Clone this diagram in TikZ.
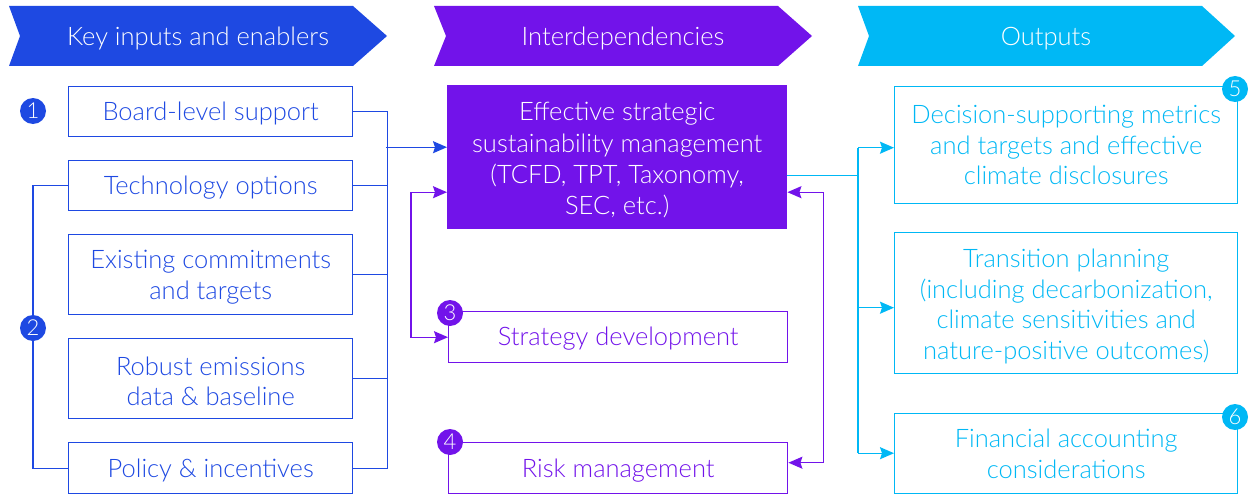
\documentclass[tikz,border=0pt]{standalone}
\usepackage{fontspec}
\setmainfont{Lato}[UprightFont={* Light}]
\usetikzlibrary{arrows.meta}
\definecolor{kblue}{HTML}{1E49E2}
\definecolor{kpurple}{HTML}{7213EA}
\definecolor{kcyan}{HTML}{00B8F5}
\newcommand\tstrut[1]{\rule{0pt}{#1pt}}
\begin{document}
\begin{tikzpicture}[x=1pt,y=-1pt,
  txt/.style={font=\fontsize{25.5}{30.6}\selectfont, align=center},
  bx/.style={draw=#1, text=#1, line width=1.4pt, inner sep=0pt, anchor=north west, txt},
  hdr/.style={txt, text=white},
  badge/.style={circle, fill=#1, text=white, minimum size=26pt, inner sep=0pt, font=\fontsize{22}{22}\selectfont},
  tip/.style={-{Stealth[length=14pt,width=12pt,inset=2pt]}},
  dtip/.style={{Stealth[length=14pt,width=12pt,inset=2pt]}-{Stealth[length=14pt,width=12pt,inset=2pt]}},
  conn/.style={draw=#1, line width=1.4pt}
]
\useasboundingbox (0,0) rectangle (1250,495);
% headers
\fill[kblue] (9,6) -- (353,6) -- (387,36) -- (353,66) -- (9,66) -- (20,36) -- cycle;
\fill[kpurple] (434,6) -- (778,6) -- (812,36) -- (778,66) -- (434,66) -- (446,36) -- cycle;
\fill[kcyan] (858,6) -- (1202,6) -- (1235,36) -- (1202,66) -- (858,66) -- (869,36) -- cycle;
\node[hdr] (h1) at (198,36) {\tstrut{23}Key inputs and enablers};
\node[hdr] (h2) at (623,36) {\tstrut{23}Interdependencies};
\node[hdr] (h3) at (1046,36) {\tstrut{23}Outputs};
% left boxes
\node[bx=kblue, minimum width=284pt, minimum height=50pt] (b1) at (68,86) {\tstrut{23}Board-level support};
\node[bx=kblue, minimum width=284pt, minimum height=50pt] (b2) at (68,160) {\tstrut{23}Technology options};
\node[bx=kblue, minimum width=284pt, minimum height=80pt] (b3) at (68,234) {\tstrut{23.5}Existing commitments\\and targets};
\node[bx=kblue, minimum width=284pt, minimum height=80pt] (b4) at (68,338) {\tstrut{23.5}Robust emissions\\data \& baseline};
\node[bx=kblue, minimum width=284pt, minimum height=51pt] (b5) at (68,442) {\tstrut{23}Policy \& incentives};
% middle
\node[anchor=north west, fill=kpurple, text=white, txt, font=\fontsize{25.5}{31.3}\selectfont, inner sep=0pt, minimum width=340pt, minimum height=144pt] (main) at (447,85)
  {\tstrut{24.5}Effective strategic\\sustainability management\\(TCFD, TPT, Taxonomy,\\SEC, etc.)};
\node[bx=kpurple, minimum width=339pt, minimum height=51pt] (strat) at (448,311) {\tstrut{22}Strategy development};
\node[bx=kpurple, minimum width=339pt, minimum height=51pt] (risk) at (448,442) {\tstrut{23.4}Risk management};
% outputs
\node[bx=kcyan, minimum width=343pt, minimum height=117pt] (oA) at (894,86) {Decision-supporting metrics\\and targets and effective\\climate disclosures};
\node[bx=kcyan, minimum width=343pt, minimum height=141pt] (oB) at (894,232) {\tstrut{25}Transition planning\\(including decarbonization,\\climate sensitivities and\\nature-positive outcomes)};
\node[bx=kcyan, minimum width=343pt, minimum height=80pt] (oC) at (894,413) {Financial accounting\\considerations};
% connectors left
\draw[conn=kblue] (b2.west) -- ++(-35,0) |- (b5.west);
\draw[conn=kblue] (b1.east) -- ++(34,0) |- (b5.east);
\draw[conn=kblue] (b2.east) -- ++(34,0);
\draw[conn=kblue] (b3.east) -- ++(34,0);
\draw[conn=kblue] (b4.east) -- ++(34,0);
\draw[conn=kblue, tip] ([yshift=10pt]main.west) ++(-61,0) -- ([yshift=10pt]main.west);
% purple loops
\draw[conn=kpurple, dtip] ([yshift=-35pt]main.west) -- ++(-36,0) |- (strat.west);
\draw[conn=kpurple, dtip] ([yshift=-35pt]main.east) -- ++(36,0) |- ([yshift=5.5pt]risk.east);
% cyan
\coordinate (cx) at (858,0);
\draw[conn=kcyan] ([yshift=-18pt]main.east) -- ([yshift=-18pt]main.east -| cx);
\draw[conn=kcyan] ([yshift=-2.5pt]oA.west -| cx) -- ([yshift=0.5pt]oC.west -| cx);
\draw[conn=kcyan, tip] ([yshift=-2.5pt]oA.west -| cx) -- ([yshift=-2.5pt]oA.west);
\draw[conn=kcyan, tip] ([yshift=-4.5pt]oB.west -| cx) -- ([yshift=-4.5pt]oB.west);
\draw[conn=kcyan, tip] ([yshift=0.5pt]oC.west -| cx) -- ([yshift=0.5pt]oC.west);
% badges
\node[badge=kblue] (n1) at (33,111) {1};
\node[badge=kblue] (n2) at (33,328) {2};
\node[badge=kpurple] (n3) at (450,313) {3};
\node[badge=kpurple] (n4) at (450,442) {4};
\node[badge=kcyan] (n5) at (1235,89) {5};
\node[badge=kcyan] (n6) at (1235,417) {6};
\end{tikzpicture}
\end{document}
